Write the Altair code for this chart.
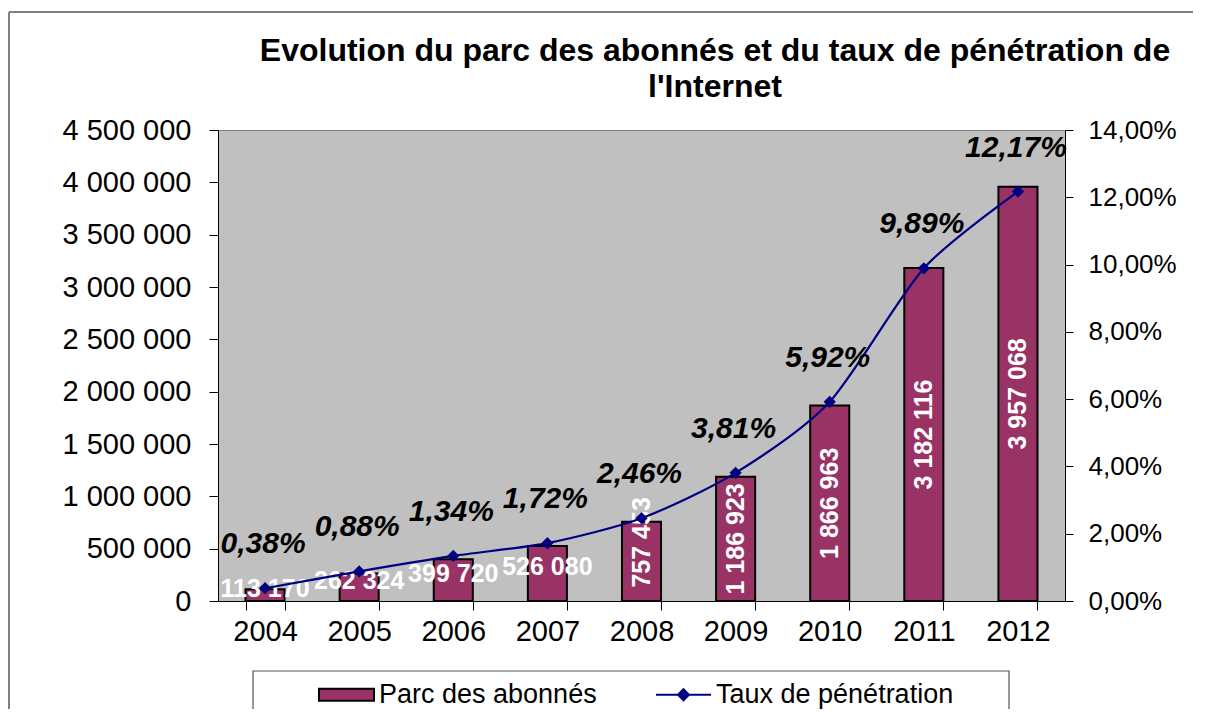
import altair as alt
import pandas as pd

# ---- data ----
annees = ["2004", "2005", "2006", "2007", "2008", "2009", "2010", "2011", "2012"]
abonnes = [113170, 262324, 399720, 526080, 757453, 1186923, 1866963, 3182116, 3957068]
taux = [0.0038, 0.0088, 0.0134, 0.0172, 0.0246, 0.0381, 0.0592, 0.0989, 0.1217]
series = ["Parc des abonnés", "Taux de pénétration"]
title_lines = ["Evolution du parc des abonnés et du taux de pénétration de", "l'Internet"]
left_ticks = [0, 500000, 1000000, 1500000, 2000000, 2500000, 3000000, 3500000, 4000000, 4500000]
right_ticks = [0, 0.02, 0.04, 0.06, 0.08, 0.10, 0.12, 0.14]

df = pd.DataFrame({"annee": annees, "abonnes": abonnes, "taux": taux})
df["lab_ab"] = [f"{v:,}".replace(",", " ") for v in abonnes]
df["lab_tx"] = [f"{v * 100:.2f}%".replace(".", ",") for v in taux]
df["mid"] = df["abonnes"] / 2

legend_df = pd.DataFrame({"serie": series})
one = pd.DataFrame({"k": [0]})

FONT = "Liberation Sans"
MAROON = "#993366"
NAVY = "#000080"

W, H = 847, 471

fill_scale = alt.Scale(domain=series, range=[MAROON, NAVY])
stroke_scale = alt.Scale(domain=series, range=["#000000", NAVY])
shape_scale = alt.Scale(
    domain=series,
    range=[
        "M-1,-0.22H1V0.22H-1Z",
        "M-1,0H1M0,-0.2L0.2,0L0,0.2L-0.2,0Z",
    ],
)

x_enc = alt.X(
    "annee:N",
    sort=annees,
    scale=alt.Scale(paddingInner=0.585, paddingOuter=0.2925),
    axis=alt.Axis(
        title=None, labelAngle=0, tickBand="extent", tickSize=9,
        labelFontSize=29, labelPadding=7, domainColor="black",
        tickColor="black", labelColor="black",
    ),
)

y_left_scale = alt.Scale(domain=[0, 4500000])
y_left = alt.Y(
    "abonnes:Q",
    scale=y_left_scale,
    axis=alt.Axis(
        title=None, values=left_ticks, grid=False, tickSize=9,
        labelFontSize=29, labelPadding=18, domainColor="black",
        tickColor="black", labelColor="black",
        labelExpr="replace(format(datum.value, ',d'), regexp(',', 'g'), ' ')",
    ),
)

frame_top = alt.Chart(one).mark_rule(stroke="#808080", strokeWidth=2).encode(
    x=alt.value(-209), x2=alt.value(1100), y=alt.value(-118)
)
frame_left = alt.Chart(one).mark_rule(stroke="#808080", strokeWidth=2).encode(
    x=alt.value(-209), y=alt.value(-118), y2=alt.value(700)
)
legend_box = alt.Chart(one).mark_rect(fillOpacity=0, stroke="#555555", strokeWidth=1.2).encode(
    x=alt.value(35), x2=alt.value(791), y=alt.value(541), y2=alt.value(640)
)
title_txt = alt.Chart(one).mark_text(
    fontSize=32, fontWeight="bold", color="black", align="center",
    baseline="alphabetic", lineHeight=36,
).encode(
    x=alt.value(497), y=alt.value(-69), text=alt.value(title_lines)
)

bars = alt.Chart(df).transform_calculate(serie="'Parc des abonnés'").mark_bar(
    strokeWidth=2
).encode(
    x=x_enc,
    y=y_left,
    fill=alt.Fill("serie:N", scale=fill_scale, title=None),
    stroke=alt.Stroke("serie:N", scale=stroke_scale, title=None),
)

lab_h = alt.Chart(df).transform_filter("datum.abonnes < 700000").mark_text(
    color="white", fontWeight="bold", fontSize=25, baseline="middle", dy=-6
).encode(
    x=alt.X("annee:N", sort=annees),
    y=alt.Y("mid:Q", scale=y_left_scale),
    text="lab_ab:N",
)
lab_v = alt.Chart(df).transform_filter("datum.abonnes >= 700000").transform_calculate(
    ypos="max(datum.mid, 560000)"
).mark_text(
    color="white", fontWeight="bold", fontSize=25, baseline="middle", angle=270
).encode(
    x=alt.X("annee:N", sort=annees),
    y=alt.Y("ypos:Q", scale=y_left_scale),
    text="lab_ab:N",
)

legend_only = alt.Chart(legend_df).mark_point(filled=True).encode(
    x=alt.value(-600), y=alt.value(-600),
    fill=alt.Fill("serie:N", scale=fill_scale, title=None),
    stroke=alt.Stroke("serie:N", scale=stroke_scale, title=None),
    shape=alt.Shape("serie:N", scale=shape_scale, title=None),
)

left = alt.layer(frame_top, frame_left, legend_box, title_txt, bars, lab_h, lab_v, legend_only)

y_right_scale = alt.Scale(domain=[0, 0.14])
y_right = alt.Y(
    "taux:Q",
    scale=y_right_scale,
    axis=alt.Axis(
        orient="right", title=None, values=right_ticks, grid=False, tickSize=8,
        labelFontSize=26, labelPadding=15, domainColor="black",
        tickColor="black", labelColor="black",
        labelExpr="replace(format(datum.value, '.2%'), '.', ',')",
    ),
)

line = alt.Chart(df).transform_calculate(serie="'Taux de pénétration'").mark_line(
    strokeWidth=2.2, interpolate="cardinal", tension=0.25
).encode(
    x=alt.X("annee:N", sort=annees),
    y=y_right,
    stroke=alt.Stroke("serie:N", scale=stroke_scale, title=None),
)
pts = alt.Chart(df).transform_calculate(serie="'Taux de pénétration'").mark_point(
    filled=True, shape="diamond", size=150, opacity=1
).encode(
    x=alt.X("annee:N", sort=annees),
    y=alt.Y("taux:Q", scale=y_right_scale),
    fill=alt.Fill("serie:N", scale=fill_scale, title=None),
)
pct = alt.Chart(df).mark_text(
    fontWeight="bold", fontStyle="italic", fontSize=30, color="black",
    dy=-44, dx=-2, baseline="middle",
).encode(
    x=alt.X("annee:N", sort=annees),
    y=alt.Y("taux:Q", scale=y_right_scale),
    text="lab_tx:N",
)

right = alt.layer(line, pts, pct)

chart = alt.layer(left, right).resolve_scale(y="independent").properties(
    width=W,
    height=H,
    autosize=alt.AutoSizeParams(type="none"),
    padding={"left": 210, "top": 122, "right": 128, "bottom": 108},
).configure(
    font=FONT,
).configure_view(
    fill="#c0c0c0", stroke="#808080", strokeWidth=1,
).configure_legend(
    orient="none", legendX=100, legendY=536, direction="horizontal",
    symbolSize=3025, symbolStrokeWidth=2, labelFontSize=27, labelColor="black",
    labelOffset=4, columnPadding=55, padding=0, labelLimit=500, symbolOpacity=1,
)

chart.save("out.html", embed_options={"renderer": "svg", "actions": False})
